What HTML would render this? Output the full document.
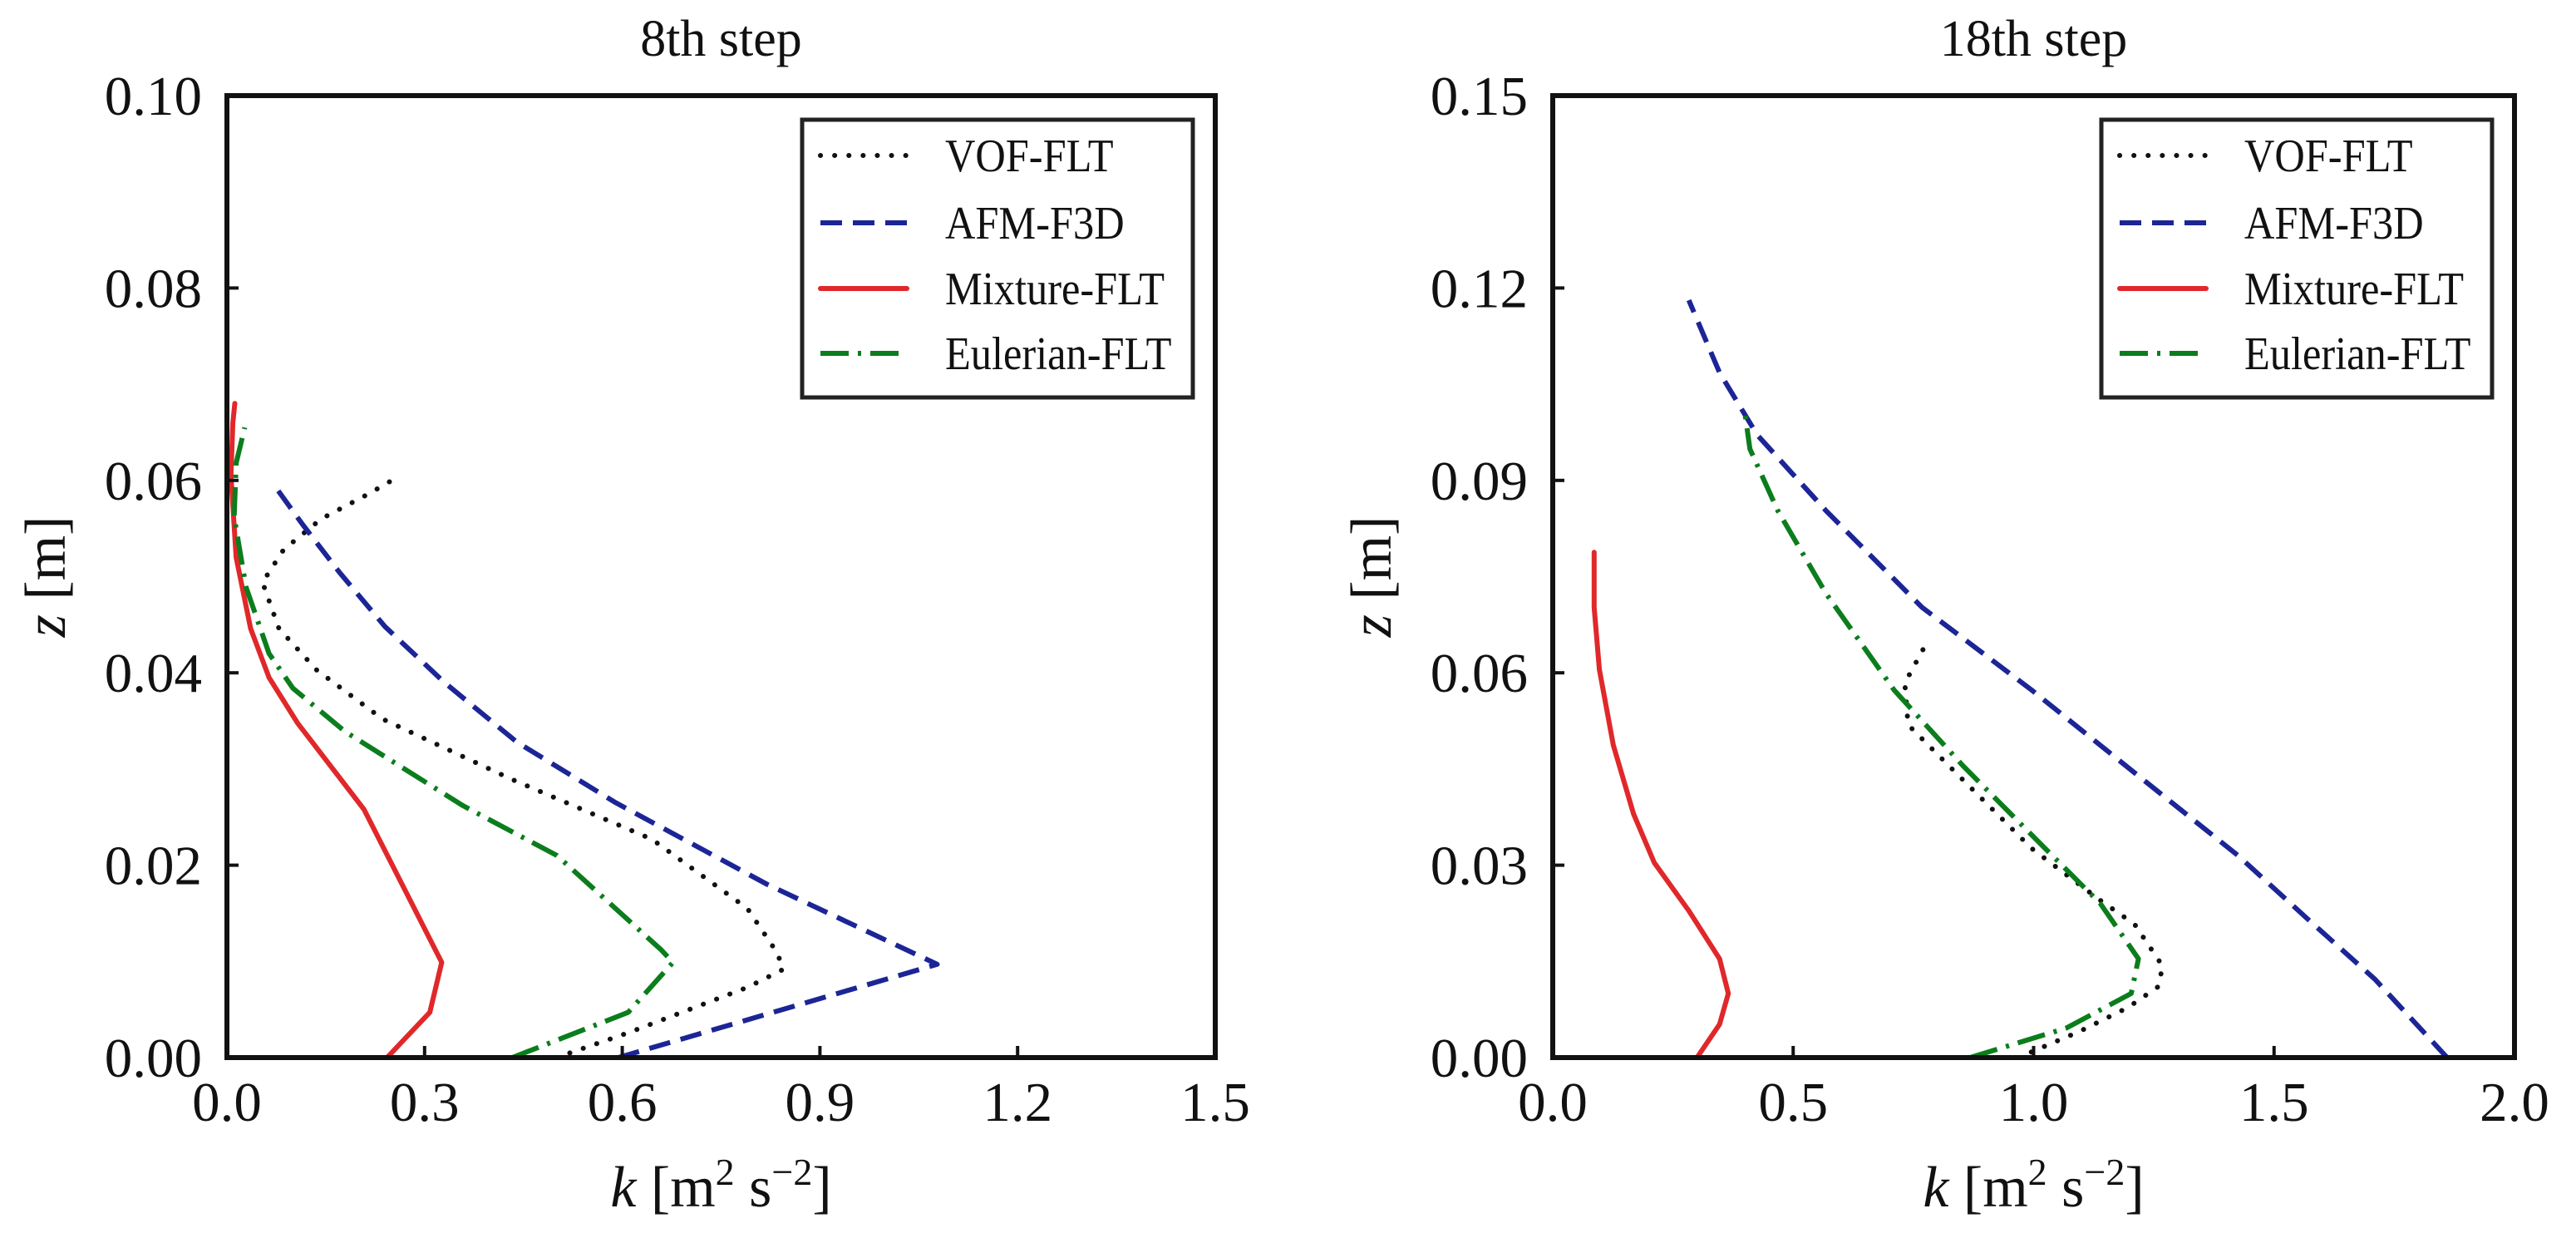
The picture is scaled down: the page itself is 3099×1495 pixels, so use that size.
<!DOCTYPE html>
<html><head><meta charset="utf-8"><style>
html,body{margin:0;padding:0;background:#fff;}
svg{display:block;font-family:"Liberation Serif","DejaVu Serif",serif;}
</style></head><body>
<svg id="chart" width="3099" height="1495" viewBox="0 0 3099 1495" xmlns="http://www.w3.org/2000/svg"></svg>
<script>
// ---- data ----
const leftTitle = "8th step";
const rightTitle = "18th step";
const leftXTicks = [0.0, 0.3, 0.6, 0.9, 1.2, 1.5];
const leftXTickLabels = ["0.0","0.3","0.6","0.9","1.2","1.5"];
const leftYTicks = [0, 0.02, 0.04, 0.06, 0.08, 0.10];
const leftYTickLabels = ["0.00","0.02","0.04","0.06","0.08","0.10"];
const rightXTicks = [0.0, 0.5, 1.0, 1.5, 2.0];
const rightXTickLabels = ["0.0","0.5","1.0","1.5","2.0"];
const rightYTicks = [0, 0.03, 0.06, 0.09, 0.12, 0.15];
const rightYTickLabels = ["0.00","0.03","0.06","0.09","0.12","0.15"];
const seriesNames = ["VOF-FLT","AFM-F3D","Mixture-FLT","Eulerian-FLT"];

const leftVofK = [0.50,0.61,0.79,0.845,0.834,0.79,0.645,0.43,0.236,0.136,0.079,0.054,0.086,0.143,0.215,0.258];
const leftVofZ = [0,0.0026,0.0073,0.0092,0.011,0.0155,0.0227,0.029,0.0352,0.0403,0.0446,0.0494,0.0528,0.056,0.0586,0.0603];
const leftAfmK = [0.594,1.078,0.82,0.59,0.44,0.33,0.24,0.17,0.115,0.075];
const leftAfmZ = [0,0.0097,0.018,0.0265,0.0328,0.039,0.0448,0.0505,0.0554,0.0592];
const leftMixK = [0.243,0.308,0.326,0.208,0.107,0.064,0.036,0.014,0.006,0.009,0.012];
const leftMixZ = [0,0.0047,0.0099,0.0258,0.0348,0.0395,0.0446,0.052,0.0605,0.066,0.068];
const leftEulK = [0.433,0.609,0.677,0.659,0.501,0.358,0.179,0.10,0.064,0.029,0.011,0.014,0.027];
const leftEulZ = [0,0.0047,0.0099,0.0112,0.021,0.0262,0.0339,0.0384,0.042,0.0489,0.0562,0.0618,0.0655];

const rightVofK = [0.968,1.096,1.196,1.26,1.268,1.21,1.139,0.996,0.853,0.739,0.732,0.775];
const rightVofZ = [0,0.0041,0.0078,0.0111,0.0143,0.0208,0.0245,0.0326,0.0433,0.0519,0.0584,0.0643];
const rightAfmK = [1.86,1.71,1.567,1.425,1.21,0.996,0.768,0.568,0.425,0.347,0.283];
const rightAfmZ = [0,0.0122,0.0218,0.0315,0.0444,0.0573,0.0702,0.0853,0.0971,0.1068,0.1181];
const rightMixK = [0.30,0.347,0.365,0.347,0.283,0.211,0.168,0.126,0.097,0.086,0.086];
const rightMixZ = [0,0.0052,0.01,0.0154,0.0229,0.0304,0.038,0.0487,0.0605,0.0702,0.0788];
const rightEulK = [0.868,1.068,1.203,1.218,1.139,1.024,0.853,0.71,0.568,0.468,0.41,0.40];
const rightEulZ = [0,0.0046,0.01,0.0154,0.024,0.0326,0.0455,0.0573,0.0724,0.0853,0.0949,0.1003];

// ---- drawing ----
const NS = "http://www.w3.org/2000/svg";
const svg = document.getElementById("chart");
const styles = [
  {color:"#111", dash:"0.1 17", cap:"round"},
  {color:"#1c2596", dash:"26 13", cap:"butt"},
  {color:"#e0282a", dash:"", cap:"round"},
  {color:"#0b7d1c", dash:"34 11 4 11", cap:"butt"}
];
function mk(tag, attrs, parent){
  const el = document.createElementNS(NS, tag);
  for (const k in attrs) el.setAttribute(k, attrs[k]);
  (parent||svg).appendChild(el);
  return el;
}
function panel(p){
  const g = mk("g", {});
  
  
  const sx = v => p.x0 + (v - p.xmin)/(p.xmax - p.xmin)*(p.x1 - p.x0);
  const sy = v => p.y1 - (v - p.ymin)/(p.ymax - p.ymin)*(p.y1 - p.y0);
  p.series.forEach((s,i)=>{
    const pts = s.k.map((k,j)=> sx(k).toFixed(1)+","+sy(s.z[j]).toFixed(1)).join(" ");
    const pl = mk("polyline", {points:pts, fill:"none", stroke:styles[i].color, "stroke-width":6,
      "stroke-dasharray":styles[i].dash, "stroke-linejoin":"round", "stroke-linecap":styles[i].cap}, g);
    
    
  });
  p.xt.forEach((t,i)=>{
    const x = sx(t);
    const tk = mk("line",{x1:x,x2:x,y1:p.y1,y2:p.y1-14,stroke:"#111","stroke-width":4},g);
    
    
    const tl = mk("text",{x:x,y:p.y1+76,"text-anchor":"middle","font-size":67,fill:"#111"},g);
    tl.textContent = p.xtl[i];
    
    
  });
  p.yt.forEach((t,i)=>{
    const y = sy(t);
    const tk = mk("line",{x1:p.x0,x2:p.x0+14,y1:y,y2:y,stroke:"#111","stroke-width":4},g);
    
    
    const tl = mk("text",{x:p.x0-30,y:y+23,"text-anchor":"end","font-size":67,fill:"#111"},g);
    tl.textContent = p.ytl[i];
    
    
  });
  const fr = mk("rect",{x:p.x0,y:p.y0,width:p.x1-p.x0,height:p.y1-p.y0,fill:"none",stroke:"#111","stroke-width":6},g);
  
  
  const cx = (p.x0+p.x1)/2;
  const ti = mk("text",{x:cx,y:67,"text-anchor":"middle","font-size":62,fill:"#111"},g);
  ti.textContent = p.title;
  
  
  const xl = mk("text",{x:cx,y:1451,"text-anchor":"middle","font-size":70,fill:"#111"},g);
  xl.innerHTML = '<tspan font-style="italic">k</tspan> [m<tspan dy="-26" font-size="46">2</tspan><tspan dy="26"> s</tspan><tspan dy="-26" font-size="46">\u22122</tspan><tspan dy="26">]</tspan>';
  
  
  const yx = p.x0 - 195, yy = (p.y0+p.y1)/2;
  const yl = mk("text",{x:yx,y:yy,"text-anchor":"middle","font-size":70,fill:"#111",transform:`rotate(-90 ${yx} ${yy})`},g);
  yl.innerHTML = '<tspan font-style="italic">z</tspan> [m]';
  
  
  const lw = 470, lx = p.x1 - 27 - lw;
  const lg = mk("g",{},g);
  
  
  const lr = mk("rect",{x:lx,y:144,width:lw,height:334,fill:"#fff",stroke:"#222","stroke-width":5},lg);
  
  
  const rows = [187,268,347,425];
  seriesNames.forEach((n,i)=>{
    const ln = mk("line",{x1:lx+22,x2:lx+126,y1:rows[i],y2:rows[i],stroke:styles[i].color,"stroke-width":6,"stroke-dasharray":styles[i].dash,"stroke-linecap":styles[i].cap},lg);
    
    
    const tx = lx+172;
    const lt = mk("text",{x:0,y:0,"font-size":56,fill:"#111",transform:`translate(${tx} ${rows[i]+19}) scale(0.9 1)`},lg);
    lt.textContent = n;
    
    
  });
}
panel({name:"left-panel-8th-step", title:leftTitle, x0:273,x1:1462,y0:115,y1:1272, xmin:0,xmax:1.5,ymin:0,ymax:0.10,
  xt:leftXTicks, xtl:leftXTickLabels, yt:leftYTicks, ytl:leftYTickLabels,
  series:[{k:leftVofK,z:leftVofZ},{k:leftAfmK,z:leftAfmZ},{k:leftMixK,z:leftMixZ},{k:leftEulK,z:leftEulZ}]});
panel({name:"right-panel-18th-step", title:rightTitle, x0:1868,x1:3025,y0:115,y1:1272, xmin:0,xmax:2.0,ymin:0,ymax:0.15,
  xt:rightXTicks, xtl:rightXTickLabels, yt:rightYTicks, ytl:rightYTickLabels,
  series:[{k:rightVofK,z:rightVofZ},{k:rightAfmK,z:rightAfmZ},{k:rightMixK,z:rightMixZ},{k:rightEulK,z:rightEulZ}]});
</script>
</body></html>
